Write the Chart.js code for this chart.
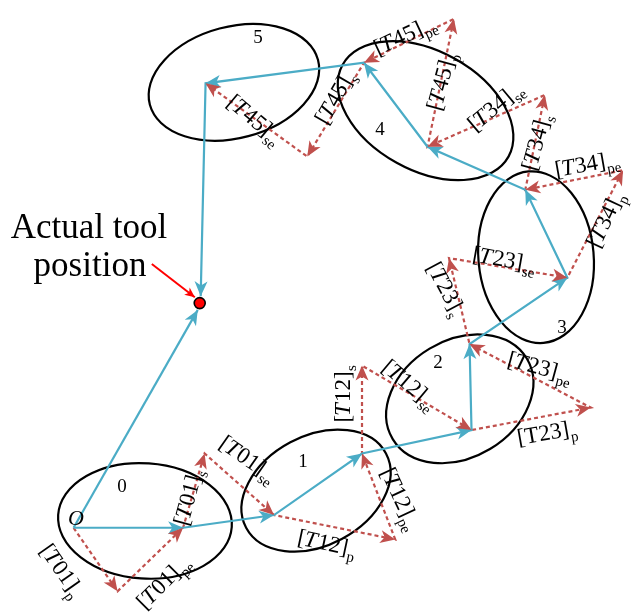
<!DOCTYPE html>
<html>
<head>
<meta charset="utf-8">
<script src="https://cdn.jsdelivr.net/npm/chart.js@4"></script>
<style>
  html, body { margin: 0; padding: 0; background: #ffffff; }
  #wrap { width: 637px; height: 613px; position: relative; }
</style>
</head>
<body>
<div id="wrap"><canvas id="c"></canvas></div>
<script>
// ---- frame-to-frame path of the tool (solid blue chain), in drawing units ----
const framePathX = [68, 180, 273, 363, 475, 473, 573, 530, 430, 365, 203, 198];
const framePathY = [533, 533, 520, 457, 433, 345, 277, 187, 143, 57, 78, 296];

// ---- direct vector from O to the actual tool position ----
const directX = [68, 195];
const directY = [533, 310];
const toolPoint = [197, 303];

// ---- decomposed transform steps (dashed red chain) ----
const stepX = [68, 113, 180, 202, 273, 397, 363, 363, 475, 597, 473, 452, 573, 630, 530, 550, 430, 457, 365, 307, 203];
const stepY = [533, 598, 533, 457, 520, 545, 457, 367, 433, 410, 345, 257, 277, 167, 187, 90, 143, 12, 57, 153, 78];
const stepNames = ['01','01','01','01','12','12','12','12','23','23','23','23','34','34','34','34','45','45','45','45'];
const stepKinds = ['p','pe','s','se','p','pe','s','se','p','pe','s','se','p','pe','s','se','p','pe','s','se'];

// ---- frame ellipses ----
const frameIds = ['0', '1', '2', '3', '4', '5'];
const ellipseCX = [141, 316, 463, 541, 428, 232];
const ellipseCY = [526, 495, 401, 256, 106, 77];
const ellipseA = [89, 81, 80, 88, 97, 89];
const ellipseB = [59, 56, 60, 59, 61, 57];
const ellipseTilt = [4, -28, -31, 85, 29, -15];

// ---- text placement ----
const frameIdPos = [[122, 487], [303, 462], [438, 363], [562, 328], [380, 130], [258, 38]];
const stepLabelPos = [
  [60, 567, 55], [158, 587, -45], [187, 500, -75], [243, 455, 35],
  [323, 542, 12], [398, 492, 65], [342, 397, -90], [405, 380, 40],
  [543, 433, -10], [533, 365, 15], [445, 286, 62], [498, 258, 10],
  [603, 223, -65], [580, 165, -10], [535, 145, -75], [490, 110, -40],
  [440, 85, -75], [398, 38, -25], [333, 100, -60], [250, 115, 40]
];
const uprightT = [8];

const BLUE = '#4BACC6';
const RED = '#C0504D';
const SERIF = '"Liberation Serif", "Times New Roman", serif';

function pts(xs, ys) { return xs.map((x, i) => ({ x: x, y: ys[i] })); }

function arrowHead(ctx, x0, y0, x1, y1, color, len, half) {
  const a = Math.atan2(y1 - y0, x1 - x0);
  ctx.save();
  ctx.translate(x1, y1);
  ctx.rotate(a);
  ctx.beginPath();
  ctx.moveTo(0, 0);
  ctx.lineTo(-len, -half);
  ctx.lineTo(-len * 0.72, 0);
  ctx.lineTo(-len, half);
  ctx.closePath();
  ctx.fillStyle = color;
  ctx.fill();
  ctx.restore();
}

// Ellipses behind the vectors
const ellipsePlugin = {
  id: 'frameEllipses',
  beforeDatasetsDraw(chart) {
    const { ctx, scales } = chart;
    const sx = scales.x, sy = scales.y;
    ctx.save();
    ctx.strokeStyle = '#000000';
    ctx.lineWidth = 2.2;
    for (let i = 0; i < frameIds.length; i++) {
      const cx = sx.getPixelForValue(ellipseCX[i]);
      const cy = sy.getPixelForValue(ellipseCY[i]);
      const rx = Math.abs(sx.getPixelForValue(ellipseA[i]) - sx.getPixelForValue(0));
      const ry = Math.abs(sy.getPixelForValue(ellipseB[i]) - sy.getPixelForValue(0));
      ctx.beginPath();
      ctx.ellipse(cx, cy, rx, ry, ellipseTilt[i] * Math.PI / 180, 0, Math.PI * 2);
      ctx.stroke();
    }
    ctx.restore();
  }
};

// Arrowheads on every segment end of datasets flagged with `arrowHeads`
const arrowPlugin = {
  id: 'segmentArrows',
  afterDatasetsDraw(chart) {
    const { ctx } = chart;
    chart.data.datasets.forEach((ds, di) => {
      if (!ds.arrowHeads) return;
      const els = chart.getDatasetMeta(di).data;
      for (let i = 1; i < els.length; i++) {
        arrowHead(ctx, els[i - 1].x, els[i - 1].y, els[i].x, els[i].y,
          ds.borderColor, ds.arrowHeads.len, ds.arrowHeads.half);
      }
    });
  }
};

function drawStepLabel(ctx, x, y, rot, num, sub, italicT) {
  const F = 23, S = 15;
  const fN = F + 'px ' + SERIF;
  const fI = (italicT ? 'italic ' : '') + F + 'px ' + SERIF;
  const fS = S + 'px ' + SERIF;
  const parts = [['[', fN], ['T', fI], [num, fN], [']', fN]];
  let w = 0;
  const widths = parts.map(p => { ctx.font = p[1]; const m = ctx.measureText(p[0]).width; w += m; return m; });
  ctx.save();
  ctx.translate(x, y);
  ctx.rotate(rot * Math.PI / 180);
  ctx.fillStyle = '#000000';
  ctx.textBaseline = 'alphabetic';
  ctx.textAlign = 'left';
  let cx = -w / 2;
  const base = F * 0.33;
  parts.forEach((p, i) => {
    ctx.font = p[1];
    ctx.fillText(p[0], cx + (p[0] === 'T' && italicT ? -1 : 0), base);
    cx += widths[i];
  });
  ctx.font = fS;
  ctx.fillText(sub, cx + 0.5, base + S * 0.4);
  ctx.restore();
}

const textPlugin = {
  id: 'diagramText',
  afterDraw(chart) {
    const { ctx } = chart;
    ctx.save();
    ctx.fillStyle = '#000000';
    ctx.textAlign = 'center';
    ctx.textBaseline = 'middle';
    ctx.font = '19px ' + SERIF;
    frameIds.forEach((id, i) => ctx.fillText(id, frameIdPos[i][0], frameIdPos[i][1]));
    ctx.font = 'italic 22px ' + SERIF;
    ctx.fillText('O', 76, 519);
    ctx.textBaseline = 'alphabetic';
    ctx.font = '35px ' + SERIF;
    ctx.fillText('Actual tool', 89, 238);
    ctx.fillText('position', 90, 276);
    ctx.restore();
    stepNames.forEach((n, i) => {
      const p = stepLabelPos[i];
      drawStepLabel(ctx, p[0], p[1], p[2], n, stepKinds[i], uprightT.indexOf(i) < 0);
    });
  }
};

new Chart(document.getElementById('c'), {
  type: 'scatter',
  data: {
    datasets: [
      {
        data: [{ x: toolPoint[0], y: toolPoint[1] }],
        pointRadius: 5.5,
        pointBackgroundColor: '#FF0000',
        pointBorderColor: '#000000',
        pointBorderWidth: 1.6,
        order: 0,
        clip: false
      },
      {
        data: pts(framePathX, framePathY),
        showLine: true, borderColor: BLUE, borderWidth: 2.2,
        pointRadius: 0, tension: 0, order: 1, clip: false,
        arrowHeads: { len: 15, half: 6.5 }
      },
      {
        data: pts(directX, directY),
        showLine: true, borderColor: BLUE, borderWidth: 2.2,
        pointRadius: 0, tension: 0, order: 1, clip: false,
        arrowHeads: { len: 15, half: 6.5 }
      },
      {
        data: [{ x: 148, y: 263 }, { x: 192, y: 297 }],
        showLine: true, borderColor: '#FF0000', borderWidth: 2,
        pointRadius: 0, tension: 0, order: 1, clip: false,
        arrowHeads: { len: 10, half: 4.5 }
      },
      {
        data: pts(stepX, stepY),
        showLine: true, borderColor: RED, borderWidth: 2.2, borderDash: [4, 3],
        pointRadius: 0, tension: 0, order: 2, clip: false,
        arrowHeads: { len: 15, half: 6.5 }
      }
    ]
  },
  options: {
    responsive: true,
    maintainAspectRatio: false,
    animation: false,
    events: [],
    layout: { padding: 0 },
    plugins: { legend: { display: false }, tooltip: { enabled: false } },
    scales: {
      x: { type: 'linear', min: 0, max: 637, display: false },
      y: { type: 'linear', min: 0, max: 613, reverse: true, display: false }
    }
  },
  plugins: [ellipsePlugin, arrowPlugin, textPlugin]
});
</script>
</body>
</html>
